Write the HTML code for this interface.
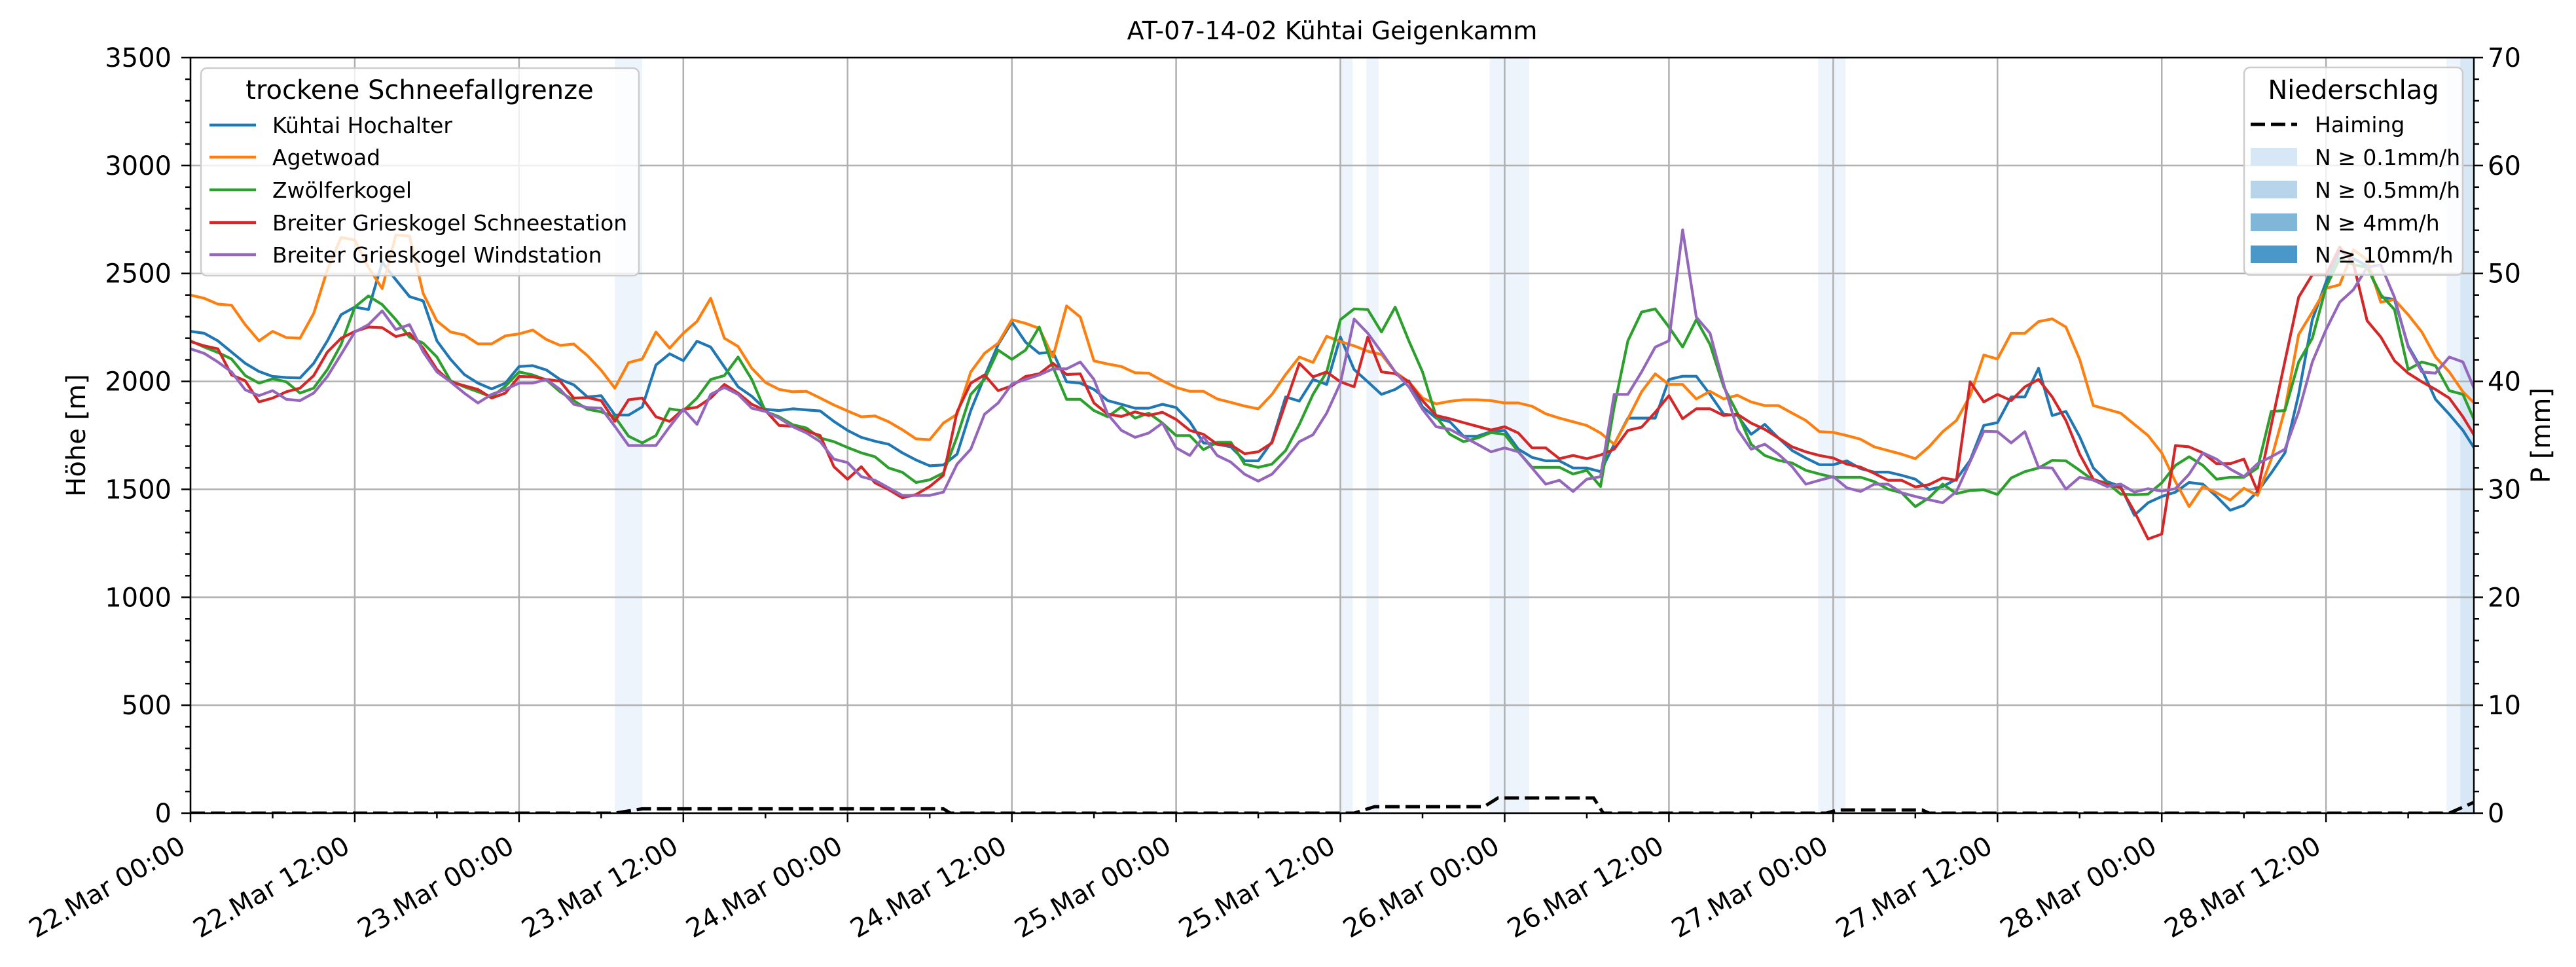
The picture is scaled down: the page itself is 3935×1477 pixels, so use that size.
<!DOCTYPE html>
<html><head><meta charset="utf-8"><title>AT-07-14-02 Kühtai Geigenkamm</title>
<style>html,body{margin:0;padding:0;background:#fff}svg{display:block}text{font-family:"DejaVu Sans","Liberation Sans",sans-serif}</style>
</head><body>
<svg id="chart" xmlns="http://www.w3.org/2000/svg" width="3935" height="1477" viewBox="0 0 3935 1477">
<rect width="3935" height="1477" fill="#fff"/>
<g id="bands"></g><g id="grid"></g><g id="series"></g><g id="axes"></g>
<text x="2035" y="60" font-size="38" text-anchor="middle">AT-07-14-02 Kühtai Geigenkamm</text>
<text x="0" y="0" font-size="40" text-anchor="middle" transform="translate(130 665) rotate(-90)">Höhe [m]</text>
<text x="0" y="0" font-size="40" text-anchor="middle" transform="translate(3895 665) rotate(-90)">P [mm]</text>
<g id="legend1">
<rect x="307" y="104" width="669" height="317" rx="9" fill="#fff" fill-opacity="0.8" stroke="#cccccc" stroke-width="2.5"/>
<text x="641" y="151" font-size="40" text-anchor="middle">trockene Schneefallgrenze</text>
<line x1="320" y1="191" x2="391" y2="191" stroke="#1f77b4" stroke-width="4.5"/><text x="416" y="203" font-size="33">Kühtai Hochalter</text>
<line x1="320" y1="240" x2="391" y2="240" stroke="#ff7f0e" stroke-width="4.5"/><text x="416" y="252" font-size="33">Agetwoad</text>
<line x1="320" y1="290" x2="391" y2="290" stroke="#2ca02c" stroke-width="4.5"/><text x="416" y="302" font-size="33">Zwölferkogel</text>
<line x1="320" y1="340" x2="391" y2="340" stroke="#d62728" stroke-width="4.5"/><text x="416" y="352" font-size="33">Breiter Grieskogel Schneestation</text>
<line x1="320" y1="389" x2="391" y2="389" stroke="#9467bd" stroke-width="4.5"/><text x="416" y="401" font-size="33">Breiter Grieskogel Windstation</text>
</g>
<g id="legend2">
<rect x="3428" y="103" width="334" height="317" rx="9" fill="#fff" fill-opacity="0.8" stroke="#cccccc" stroke-width="2.5"/>
<text x="3595" y="151" font-size="40" text-anchor="middle">Niederschlag</text>
<line x1="3438" y1="190" x2="3509" y2="190" stroke="#000" stroke-width="5" stroke-dasharray="22 9"/><text x="3536" y="202" font-size="33">Haiming</text>
<rect x="3438" y="226" width="71" height="27" fill="#d8e7f5"/><text x="3536" y="252" font-size="33">N ≥ 0.1mm/h</text>
<rect x="3438" y="276" width="71" height="27" fill="#b8d4ea"/><text x="3536" y="302" font-size="33">N ≥ 0.5mm/h</text>
<rect x="3438" y="326" width="71" height="27" fill="#80b7d9"/><text x="3536" y="352" font-size="33">N ≥ 4mm/h</text>
<rect x="3438" y="375" width="71" height="27" fill="#4a98c9"/><text x="3536" y="401" font-size="33">N ≥ 10mm/h</text>
</g>
</svg>
<script>
const blue=[2232,2223,2188,2136,2084,2046,2023,2018,2016,2084,2188,2309,2344,2333,2552,2471,2393,2373,2188,2102,2032,1992,1965,1992,2069,2073,2053,2009,1984,1928,1934,1845,1844,1882,2076,2128,2096,2186,2159,2067,1975,1931,1871,1865,1873,1868,1863,1815,1773,1741,1723,1709,1669,1636,1609,1613,1663,1865,
2021,2171,2275,2182,2130,2136,1998,1992,1963,1911,1894,1876,1876,1894,1879,1813,1715,1709,1697,1632,1632,1721,1928,1909,2009,1986,2206,2055,1998,1940,1963,2003,1882,1830,1813,1746,1746,1767,1773,1686,1648,1632,1632,1599,1599,1582,1709,1830,1830,1830,2009,2024,2024,1940,1848,1842,1755,
1801,1738,1680,1645,1614,1614,1632,1596,1580,1580,1565,1547,1499,1513,1547,1634,1796,1809,1928,1928,2061,1842,1861,1744,1599,1536,1513,1380,1438,1467,1487,1532,1524,1467,1403,1426,1490,1576,1669,1940,2286,2460,2604,2570,2535,2390,2379,2165,2055,1917,1848,1773,1674];
const orange=[2400,2385,2358,2353,2263,2188,2232,2203,2200,2315,2517,2667,2655,2529,2430,2679,2673,2407,2280,2229,2215,2174,2174,2211,2220,2238,2194,2167,2173,2119,2052,1969,2087,2104,2229,2154,2223,2278,2385,2200,2162,2061,1995,1963,1952,1954,1923,1891,1863,1836,1840,1813,1776,1734,1730,1807,1848,2044,
2130,2177,2286,2269,2246,2113,2350,2298,2095,2081,2069,2040,2038,2003,1972,1954,1954,1919,1903,1886,1873,1940,2032,2113,2088,2209,2185,2165,2140,2125,2044,1998,1923,1896,1908,1915,1915,1911,1900,1900,1885,1850,1830,1813,1796,1761,1709,1827,1952,2035,1986,1986,1919,1954,1919,1936,1905,
1888,1888,1853,1819,1767,1764,1749,1732,1697,1680,1663,1642,1697,1767,1819,1934,2122,2104,2223,2223,2277,2290,2252,2102,1888,1871,1853,1801,1749,1669,1536,1420,1513,1484,1450,1505,1472,1640,1871,2217,2321,2431,2448,2610,2564,2367,2379,2309,2229,2113,2044,1952,1888];
const green=[2188,2159,2134,2104,2027,1992,2012,1998,1946,1969,2055,2171,2344,2396,2356,2286,2206,2177,2113,2003,1975,1952,1928,1978,2044,2030,2007,1952,1911,1871,1859,1836,1746,1715,1749,1873,1863,1923,2009,2027,2113,2009,1861,1836,1799,1784,1738,1721,1694,1669,1651,1599,1579,1532,1544,1576,1744,1940,
2009,2145,2102,2145,2252,2067,1917,1917,1865,1836,1882,1830,1853,1807,1749,1749,1684,1718,1718,1617,1602,1617,1680,1801,1940,2044,2286,2336,2333,2229,2344,2188,2044,1836,1755,1721,1738,1763,1755,1674,1602,1602,1602,1571,1588,1513,1882,2188,2321,2336,2252,2159,2286,2171,1975,1853,1709,
1657,1634,1622,1588,1571,1556,1556,1556,1536,1501,1484,1420,1461,1524,1480,1495,1498,1476,1553,1582,1599,1634,1632,1588,1542,1530,1478,1475,1478,1530,1611,1651,1611,1547,1556,1556,1599,1861,1865,2090,2200,2437,2569,2540,2529,2402,2333,2055,2090,2073,1957,1940,1796];
const red=[2185,2165,2151,2030,2003,1905,1923,1952,1969,2027,2136,2200,2231,2252,2249,2208,2223,2154,2055,1998,1980,1963,1923,1946,2023,2021,2009,2001,1923,1925,1911,1815,1915,1923,1836,1815,1871,1880,1923,1986,1946,1894,1865,1796,1792,1770,1749,1605,1547,1605,1530,1499,1461,1476,1513,1565,1859,1992,
2030,1957,1980,2023,2035,2084,2032,2035,1900,1848,1838,1859,1842,1857,1824,1773,1755,1709,1706,1665,1674,1715,1900,2084,2021,2044,1998,1975,2206,2044,2036,1998,1911,1842,1827,1809,1792,1775,1790,1761,1692,1692,1642,1657,1642,1659,1686,1773,1788,1857,1934,1827,1873,1873,1842,1848,1807,
1778,1738,1697,1674,1657,1645,1617,1603,1574,1542,1542,1511,1522,1553,1542,1998,1905,1940,1911,1975,2009,1928,1819,1663,1547,1524,1507,1397,1270,1293,1703,1697,1669,1619,1619,1640,1490,1797,2094,2390,2494,2494,2621,2546,2281,2206,2096,2038,1998,1963,1923,1836,1732];
const purple=[2151,2130,2090,2044,1961,1934,1957,1917,1911,1946,2023,2125,2229,2263,2327,2240,2263,2136,2044,1998,1946,1900,1940,1963,1992,1992,2009,1963,1894,1879,1876,1792,1703,1703,1703,1790,1871,1801,1940,1972,1940,1876,1861,1830,1790,1761,1721,1640,1624,1559,1542,1507,1472,1472,1472,1487,1617,1686,
1848,1900,1988,2009,2030,2058,2058,2090,2009,1848,1773,1741,1761,1807,1692,1657,1744,1657,1626,1570,1538,1570,1640,1721,1753,1853,1992,2289,2223,2136,2044,1975,1871,1790,1778,1744,1709,1674,1692,1674,1599,1524,1542,1490,1547,1559,1940,1940,2044,2159,2188,2702,2298,2223,1986,1778,1686,
1709,1663,1605,1524,1542,1559,1507,1490,1524,1524,1484,1467,1452,1438,1490,1628,1769,1767,1715,1767,1602,1599,1501,1556,1543,1513,1524,1487,1503,1492,1503,1570,1669,1640,1594,1559,1619,1651,1686,1859,2090,2240,2367,2425,2529,2540,2390,2159,2044,2038,2113,2090,1940];
const seriesNames=["kuehtai-hochalter","agetwoad","zwoelferkogel","breiter-grieskogel-schneestation","breiter-grieskogel-windstation"];
const haimingHours=[0,31,33,55,55.5,85,86.5,94.5,95.5,102.5,103.2,119.5,120.3,126.5,127,165,166.8];
const haimingVals=[0,0,0.4,0.4,0,0,0.6,0.6,1.4,1.4,0,0,0.3,0.3,0,0,1.0];
const bandStart=[31.0,83.9,85.9,94.9,118.9,164.8,165.8];
const bandEnd=[33.0,84.9,86.8,97.8,120.9,165.8,166.8];
const bandLevel=[0,0,0,0,0,0,1];
const xTickLabels=["22.Mar 00:00","22.Mar 12:00","23.Mar 00:00","23.Mar 12:00","24.Mar 00:00","24.Mar 12:00","25.Mar 00:00","25.Mar 12:00","26.Mar 00:00","26.Mar 12:00","27.Mar 00:00","27.Mar 12:00","28.Mar 00:00","28.Mar 12:00"];
const yTicks=[0,500,1000,1500,2000,2500,3000,3500];
const y2Ticks=[0,10,20,30,40,50,60,70];

const L=291,R=3779,T=88,B=1242,HMAX=166.8,YMAX=3500,PMAX=70;
const X=h=>L+h*(R-L)/HMAX;
const Y=v=>B-v/YMAX*(B-T);
const YP=p=>B-p/PMAX*(B-T);
const NS="http://www.w3.org/2000/svg";
function mk(tag,attrs,parent){const e=document.createElementNS(NS,tag);for(const k in attrs)e.setAttribute(k,attrs[k]);parent.appendChild(e);return e;}
const svg=document.getElementById('chart');
const defs=mk('defs',{},svg);
const cp=mk('clipPath',{id:'plotclip'},defs);
mk('rect',{x:L,y:T,width:R-L,height:B-T},cp);

const gb=document.getElementById('bands');
const bandColors=["#eef4fb","#d8e7f5"];
bandStart.forEach((s,i)=>{
  const r=mk('rect',{x:X(s),y:T,width:X(bandEnd[i])-X(s),height:B-T,fill:bandColors[bandLevel[i]]},gb);
  
  
});

const gg=document.getElementById('grid');
for(let i=0;i<xTickLabels.length;i++){
  const l=mk('line',{x1:X(i*12),x2:X(i*12),y1:T,y2:B,stroke:'#b0b0b0','stroke-width':2.5},gg);
  
  
}
yTicks.forEach(v=>{
  const l=mk('line',{x1:L,x2:R,y1:Y(v),y2:Y(v),stroke:'#b0b0b0','stroke-width':2.5},gg);
  
  
});

const gs=document.getElementById('series');
gs.setAttribute('clip-path','url(#plotclip)');
const colors=["#1f77b4","#ff7f0e","#2ca02c","#d62728","#9467bd"];
[blue,orange,green,red,purple].forEach((arr,si)=>{
  const d=arr.map((v,h)=>(h?'L':'M')+X(h).toFixed(1)+','+Y(v).toFixed(1)).join('');
  const p=mk('path',{d:d,fill:'none',stroke:colors[si],'stroke-width':4.2,'stroke-linejoin':'round'},gs);
  
  
});
const hd=haimingHours.map((h,i)=>(i?'L':'M')+X(h).toFixed(1)+','+YP(haimingVals[i]).toFixed(1)).join('');
const hp=mk('path',{d:hd,fill:'none',stroke:'#000','stroke-width':5,'stroke-dasharray':'22 9'},gs);



const ga=document.getElementById('axes');
mk('rect',{x:L,y:T,width:R-L,height:B-T,fill:'none',stroke:'#000','stroke-width':2.5},ga);
for(let h=0;h<=HMAX;h+=6){
  const major=h%12===0;
  mk('line',{x1:X(h),x2:X(h),y1:B,y2:B+(major?14:8),stroke:'#000','stroke-width':2.5},ga);
}
xTickLabels.forEach((s,i)=>{
  const tx=X(i*12)-5, ty=1300;
  const t=mk('text',{x:tx,y:ty,'font-size':40,'text-anchor':'end',transform:`rotate(-30 ${tx} ${ty})`},ga);
  t.textContent=s;
  
  
});
for(let v=0;v<=YMAX;v+=100){
  const major=v%500===0;
  mk('line',{x1:L,x2:L-(major?14:8),y1:Y(v),y2:Y(v),stroke:'#000','stroke-width':2.5},ga);
}
yTicks.forEach(v=>{
  const t=mk('text',{x:262,y:Y(v)+14,'font-size':40,'text-anchor':'end'},ga);
  t.textContent=v;
  
  
});
for(let p=0;p<=PMAX;p+=2){
  const major=p%10===0;
  mk('line',{x1:R,x2:R+(major?14:8),y1:YP(p),y2:YP(p),stroke:'#000','stroke-width':2.5},ga);
}
y2Ticks.forEach(p=>{
  const t=mk('text',{x:3800,y:YP(p)+14,'font-size':40,'text-anchor':'start'},ga);
  t.textContent=p;
  
  
});
</script>
</body></html>
